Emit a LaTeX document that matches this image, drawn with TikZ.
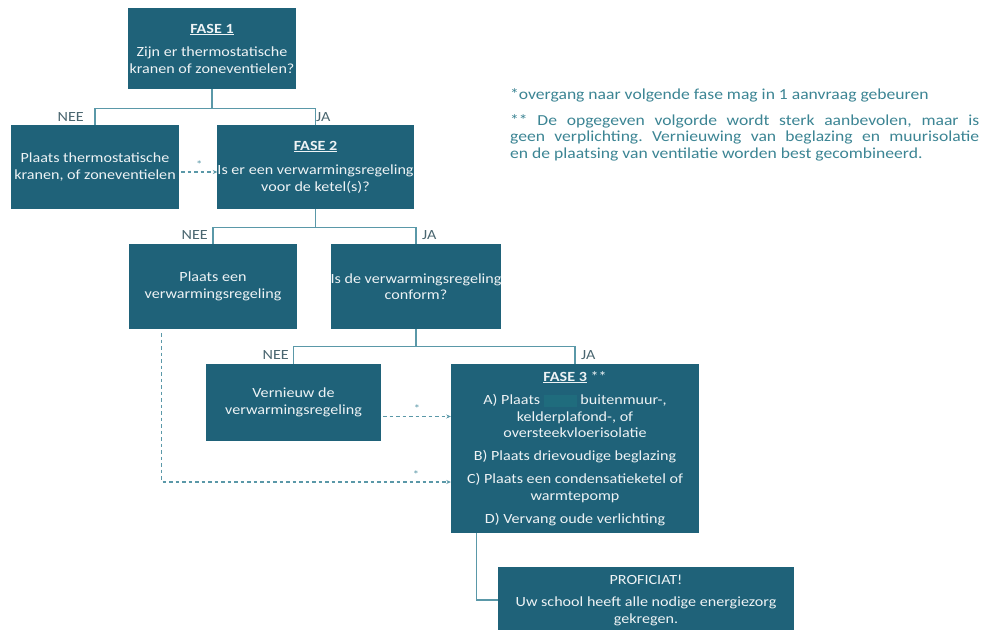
\documentclass[tikz,border=0pt]{standalone}
\usepackage{fontspec}
\setmainfont{Carlito}[FakeStretch=1.15]
\usetikzlibrary{calc,arrows.meta}
\definecolor{boxc}{HTML}{1F6279}
\definecolor{linec}{HTML}{5A98A8}
\definecolor{notec}{HTML}{3C8594}
\definecolor{labc}{HTML}{4A6670}
\definecolor{txtc}{HTML}{EEF3F5}
\definecolor{hidec}{HTML}{1F6C7D}
\begin{document}
\frenchspacing
\begin{tikzpicture}[x=1pt,y=-1pt,
 box/.style={draw=none, fill=boxc, text=txtc, align=center, inner sep=0pt, font=\fontsize{14}{16.5}\selectfont},
 conn/.style={draw=linec, line width=1.2pt},
 dsh/.style={draw=linec, line width=1.2pt, dash pattern=on 3.5pt off 3pt, -{Stealth[length=4.5pt,width=4pt]}},
 lab/.style={text=labc, font=\fontsize{14}{15}\selectfont, inner sep=0pt},
 star/.style={text=linec, font=\fontsize{11}{11}\selectfont, inner sep=0pt},
 note/.style={text=notec, font=\fontsize{15.3}{16.5}\selectfont, inner sep=0pt}]
\clip (0,0) rectangle (981,629);
\fill[white] (0,0) rectangle (981,629);

% boxes
\node[box, minimum width=168pt, minimum height=81pt] (f1) at (212,48.5)
  {\textbf{\underline{FASE 1}}\\[7pt] Zijn er thermostatische\\ kranen of zoneventielen?};
\node[box, minimum width=168pt, minimum height=84pt] (n1) at (95,167)
  {Plaats thermostatische\\ kranen, of zoneventielen};
\node[box, minimum width=193pt, minimum height=84pt] (f2) at (315.5,167)
  {\textbf{\underline{FASE 2}}\\[8pt] Is er een verwarmingsregeling\\ voor de ketel(s)?};
\node[box, minimum width=168pt, minimum height=85pt] (n2) at (213,286.5)
  {Plaats een\\ verwarmingsregeling};
\node[box, minimum width=168pt, minimum height=85pt] (q2) at (416,286.5)
  {Is de verwarmingsregeling\\ conform?};
\node[box, minimum width=175pt, minimum height=77pt] (n3) at (293.5,402.5)
  {Vernieuw de\\ verwarmingsregeling};
\node[box, minimum width=248pt, minimum height=169pt] (f3) at (575,448.5)
  {\textbf{\underline{FASE 3}} **\\[7pt]
   A) Plaats \textcolor{hidec}{\rule[-2pt]{33pt}{12pt}} buitenmuur-,\\
   kelderplafond-, of\\ oversteekvloerisolatie\\[6pt]
   B) Plaats drievoudige beglazing\\[7pt]
   C) Plaats een condensatieketel of\\ warmtepomp\\[7pt]
   D) Vervang oude verlichting};
\node[box, minimum width=296pt, minimum height=66pt] (pro) at (646,600)
  {PROFICIAT!\\[6pt] Uw school heeft alle nodige energiezorg\\ gekregen.};

% tree connectors
\draw[conn] (f1.south) -- ++(0,19) coordinate (j1);
\draw[conn] (n1.north) |- (j1) -| (f2.north);
\draw[conn] (f2.south) -- ++(0,18) coordinate (j2);
\draw[conn] (n2.north) |- (j2) -| (q2.north);
\draw[conn] (q2.south) -- ++(0,17) coordinate (j3);
\draw[conn] (n3.north) |- (j3) -| (f3.north);
\draw[conn] ($(f3.south west)+(26,0)$) coordinate (j4) |- (pro.west);

% labels
\node[lab, anchor=east] (lnee1) at (84,117) {NEE};
\node[lab, anchor=west] (lja1) at (316,117) {JA};
\node[lab, anchor=east] (lnee2) at (208,235) {NEE};
\node[lab, anchor=west] (lja2) at (422,235) {JA};
\node[lab, anchor=east] (lnee3) at (289,355) {NEE};
\node[lab, anchor=west] (lja3) at (581,355) {JA};

% dashed transitions
\path (n1.east) ++(2,5) coordinate (a1);
\draw[dsh] (a1) -- (a1 -| f2.west) node[star, midway, above=3pt] {*};
\path (n3.east) ++(2,14) coordinate (a3);
\draw[dsh] (a3) -- (a3 -| f3.west) node[star, midway, above=3pt] {*};
\path (n2.south west) ++(33,4) coordinate (a2);
\path (f3.west) ++(0,33.5) coordinate (b2);
\draw[dsh] (a2) |- (b2);
\node[star, anchor=south] (s2) at (416,479) {*};

% notes
\node[note, anchor=west] (note1) at (510,95)
  {*overgang naar volgende fase mag in 1 aanvraag gebeuren};
\node[note, anchor=north west, text width=469pt, align=justify] (note2) at (510,114)
  {** De opgegeven volgorde wordt sterk aanbevolen, maar is\linebreak
   geen verplichting. Vernieuwing van beglazing en muurisolatie\linebreak
   en de plaatsing van ventilatie worden best gecombineerd.};
\end{tikzpicture}
\end{document}
